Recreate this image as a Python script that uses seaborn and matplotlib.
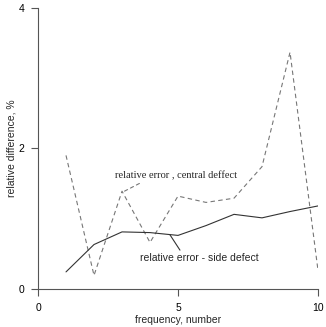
import matplotlib
matplotlib.use("Agg")
import matplotlib.pyplot as plt
import seaborn as sns
import pandas as pd

# --- data ---
frequency = [1, 2, 3, 4, 5, 6, 7, 8, 9, 10]
central_defect = [1.90, 0.19, 1.39, 0.66, 1.32, 1.23, 1.29, 1.74, 3.37, 0.26]
side_defect = [0.24, 0.63, 0.81, 0.80, 0.76, 0.90, 1.06, 1.01, 1.10, 1.18]
x_ticks = [0, 5, 10]
y_ticks = [0, 2, 4]

sns.set_style("ticks")
plt.rcParams['font.family'] = ['Liberation Sans', 'DejaVu Sans']

df = pd.DataFrame({'frequency': frequency,
                   'central': central_defect,
                   'side': side_defect})

AXIS_COL = "#555555"
DASH_COL = "#777777"
SOLID_COL = "#333333"

fig = plt.figure(figsize=(3.26, 3.27), dpi=100)
ax = fig.add_axes([0.1166, 0.117, 0.8589, 0.8585])

sns.lineplot(data=df, x='frequency', y='central', ax=ax, color=DASH_COL,
             linewidth=0.8, linestyle=(0, (4, 3)))
sns.lineplot(data=df, x='frequency', y='side', ax=ax, color=SOLID_COL,
             linewidth=0.8)

ax.set_xlim(0, 10)
ax.set_ylim(0, 4)
ax.set_xticks(x_ticks)
ax.set_yticks(y_ticks)
ax.set_xlabel("frequency, number", fontsize=7.5, labelpad=2)
ax.set_ylabel("relative difference, %", fontsize=7.5)
# place y label like the reference (right edge ~16 px from the figure edge)
ax.yaxis.set_label_coords(-0.078, 0.5)

for side in ['top', 'right']:
    ax.spines[side].set_visible(False)
for side in ['left', 'bottom']:
    ax.spines[side].set_color(AXIS_COL)
    ax.spines[side].set_linewidth(0.8)
ax.tick_params(axis='both', colors=AXIS_COL, labelcolor='black',
               labelsize=7.5, length=5, width=0.8, direction='out', pad=5)
ax.spines['left'].set_bounds(0, 4)
ax.spines['bottom'].set_bounds(0, 10)

# labels with leader lines
ax.text(2.75, 1.61, "relative error , central deffect", fontsize=7.5,
        va='center', ha='left', family=['Liberation Serif', 'DejaVu Serif'])
ax.annotate("", xy=(2.99, 1.37), xytext=(3.62, 1.50),
            arrowprops=dict(arrowstyle='-', color=DASH_COL, lw=0.8,
                            linestyle=(0, (3, 3)), shrinkA=0, shrinkB=0))
ax.text(3.64, 0.44, "relative error - side defect", fontsize=7.5,
        va='center', ha='left')
ax.annotate("", xy=(4.71, 0.77), xytext=(5.07, 0.55),
            arrowprops=dict(arrowstyle='-', color=SOLID_COL, lw=0.8,
                            shrinkA=0, shrinkB=0))

fig.savefig("out.png", dpi=100)
